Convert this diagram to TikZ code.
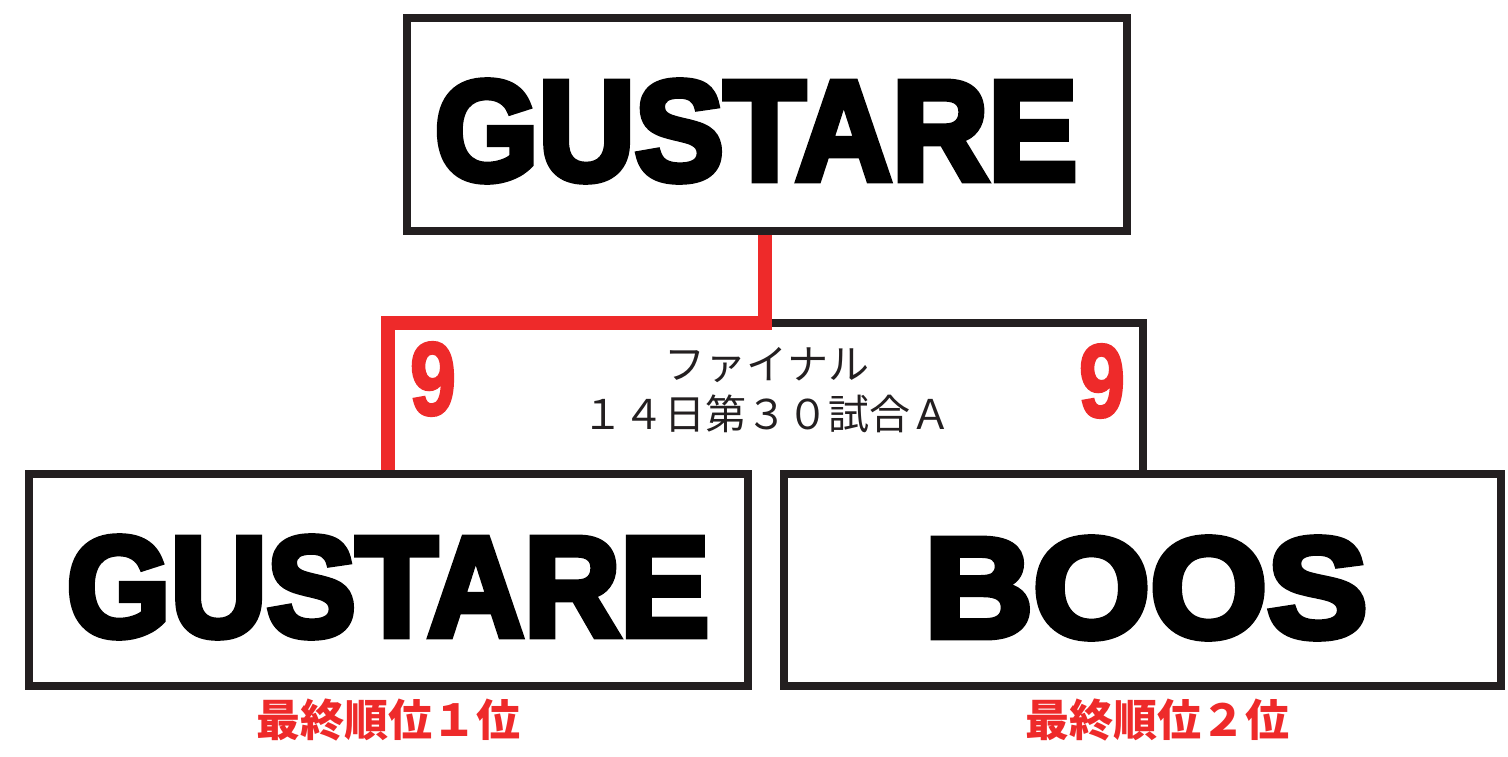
\documentclass[tikz,border=0pt]{standalone}
\usepackage{fontspec}
\newfontfamily\jp{Noto Sans CJK JP}
\newfontfamily\heavy[FakeBold=5]{Liberation Sans}
\newfontfamily\heavynum[FakeBold=2.5]{Liberation Sans}
\definecolor{ink}{RGB}{35,31,32}
\definecolor{rd}{RGB}{238,42,42}
\tikzset{
  teambox/.style={draw=ink, line width=8pt, fill=white, inner sep=0pt, minimum width=719pt, minimum height=212pt},
  teamname/.style={inner sep=0pt, font=\heavy\bfseries\fontsize{142}{142}\selectfont, text=black},
  score/.style={inner sep=0pt, text=rd, font=\heavynum\bfseries\fontsize{104}{104}\selectfont},
  rank/.style={inner sep=0pt, text=rd, font=\jp\bfseries\fontsize{44}{44}\selectfont},
  winline/.style={draw=rd, line width=14pt},
  loseline/.style={draw=ink, line width=8pt}
}
\begin{document}
\begin{tikzpicture}[x=1pt,y=-1pt]
\useasboundingbox (0,0) rectangle (1508,757);
% boxes
\node[teambox, minimum width=720pt, minimum height=213pt] (top) at (767,124.5) {};
\node[teambox] (left) at (388.5,580) {};
\node[teambox, minimum width=717pt] (right) at (1142.5,580) {};
% connectors
\coordinate (j) at (765,323);
\coordinate (jr) at (1143,323);
\coordinate (jl) at (388,323);
\draw[loseline] (j) -- (jr) -- (jr |- right.north);
\draw[winline] (top.south -| j) -- (j) -- ([xshift=-7pt]jl) ;
\draw[winline] ([yshift=-7pt]jl) -- (jl |- left.north);
% team names
\node[teamname] (ttop) at (756,131) {\scalebox{0.94}[1]{GUSTARE}};
\node[teamname] (tleft) at (388,587) {\scalebox{0.94}[1]{GUSTARE}};
\node[teamname] (tright) at (1146,588) {\scalebox{1.06}[1]{BOOS}};
% scores
\node[score] (s1) at (433,379) {\scalebox{0.8}[1]{9}};
\node[score] (s2) at (1102,381) {\scalebox{0.8}[1]{9}};
% match info
\node[inner sep=0pt, text=ink, font=\jp\fontsize{41}{50}\selectfont, align=center] (info) at (767,390) {ファイナル\\１４日第３０試合Ａ};
% ranks
\node[rank] (r1) at (388,720) {最終順位１位};
\node[rank] (r2) at (1157,720) {最終順位２位};
\end{tikzpicture}
\end{document}
